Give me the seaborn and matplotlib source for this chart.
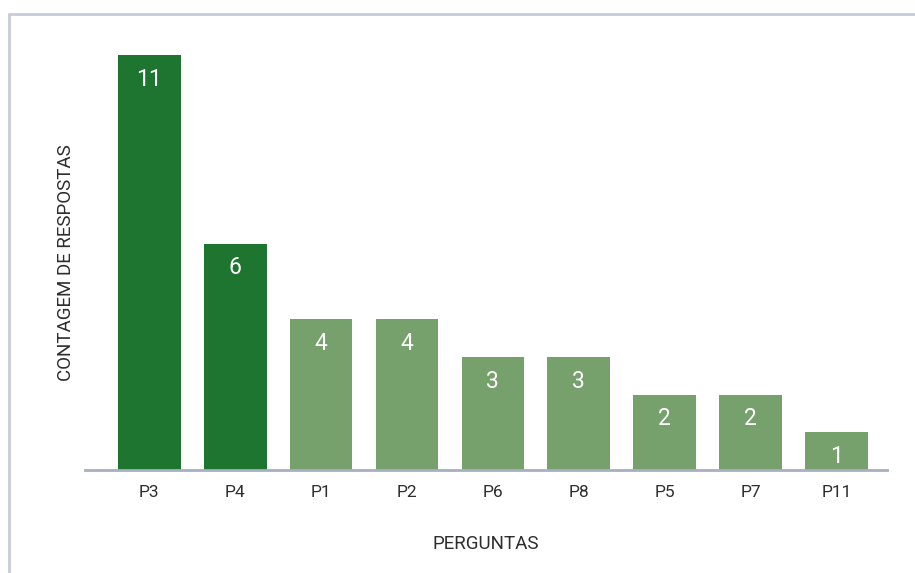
import matplotlib
matplotlib.use("Agg")
import matplotlib.pyplot as plt
from matplotlib.lines import Line2D
import seaborn as sns
import pandas as pd

categories = ["P3", "P4", "P1", "P2", "P6", "P8", "P5", "P7", "P11"]
values = [11, 6, 4, 4, 3, 3, 2, 2, 1]
bar_colors = ["#1e7530", "#1e7530", "#76a06c", "#76a06c", "#76a06c",
              "#76a06c", "#76a06c", "#76a06c", "#76a06c"]
x_label = "PERGUNTAS"
y_label = "CONTAGEM DE RESPOSTAS"

sns.set_theme(style="white")
plt.rcParams['font.family'] = ['Roboto', 'DejaVu Sans']
text_color = "#2e2e2e"

df = pd.DataFrame({"cat": categories, "val": values})

fig = plt.figure(figsize=(9.15, 5.73), dpi=100)
ax = fig.add_axes([85/915, 1 - 470/573, (887 - 85)/915, (470 - 55)/573])

sns.barplot(data=df, x="cat", y="val", hue="cat", palette=bar_colors,
            legend=False, width=0.73, saturation=1, ax=ax, order=categories,
            linewidth=0)

ax.set_xlim(-0.75, 8.59)
ax.set_ylim(0, 11)

for s in ["top", "right", "left"]:
    ax.spines[s].set_visible(False)
ax.spines["bottom"].set_color("#a8afc0")
ax.spines["bottom"].set_linewidth(2)
ax.set_yticks([])
ax.tick_params(axis="x", length=0, pad=11, labelsize=12.5, labelcolor=text_color)

for i, v in enumerate(values):
    ax.annotate(str(v), (i, v), xytext=(0, -17.5), textcoords="offset points",
                ha="center", va="center", color="white", fontsize=16.5)

ax.set_xlabel(x_label, fontsize=13.5, color=text_color, labelpad=25)
ax.set_ylabel(y_label, fontsize=13.5, color=text_color, labelpad=7)

# frame lines
fig.add_artist(Line2D([8.5/915, 1], [1 - 13.5/573, 1 - 13.5/573],
                      transform=fig.transFigure, color="#c9ccd9", lw=2))
fig.add_artist(Line2D([8.5/915, 8.5/915], [0, 1 - 13.5/573],
                      transform=fig.transFigure, color="#c9ccd9", lw=2))

fig.savefig("out.png", dpi=100, facecolor="white")
